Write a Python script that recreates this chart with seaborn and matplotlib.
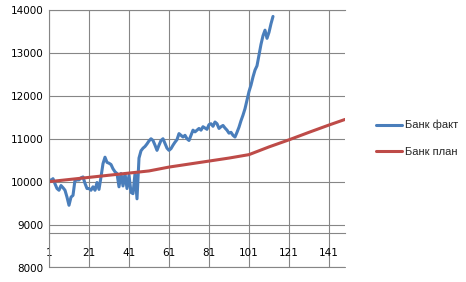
import matplotlib
matplotlib.use("Agg")
import matplotlib.pyplot as plt
import seaborn as sns
import pandas as pd

# ---- data ----
series_names = ["Банк факт", "Банк план"]

fact_values = [
    10050, 10030, 10070, 9950, 9840, 9800, 9910, 9860, 9800, 9640,
    9450, 9640, 9680, 10040, 10040, 10040, 10090, 10110, 9960, 9840,
    9840, 9800, 9880, 9800, 9980, 9820, 10110, 10420, 10570, 10450,
    10430, 10400, 10300, 10230, 10190, 9880, 10190, 9900, 10190, 9840,
    10150, 9750, 9720, 10190, 9600, 10550, 10720, 10780, 10820, 10880,
    10950, 11000, 10960, 10850, 10730, 10850, 10960, 11000, 10890, 10780,
    10730, 10770, 10850, 10920, 10980, 11120, 11080, 11040, 11080, 11000,
    10960, 11080, 11200, 11160, 11200, 11240, 11200, 11280, 11250, 11220,
    11330, 11350, 11290, 11390, 11350, 11240, 11280, 11310, 11250, 11200,
    11130, 11150, 11080, 11040, 11150, 11270, 11420, 11550, 11700, 11900,
    12100, 12250, 12440, 12600, 12700, 12950, 13200, 13400, 13530, 13340,
    13480, 13680, 13850,
]
fact_periods = list(range(1, len(fact_values) + 1))

plan_periods = [1, 11, 21, 31, 41, 51, 61, 71, 81, 91, 101, 106, 111, 121, 131, 141, 149]
plan_values = [10000, 10050, 10100, 10150, 10200, 10250, 10340, 10410, 10480,
               10550, 10630, 10720, 10810, 10975, 11150, 11320, 11450]

x_tick_labels = [1, 21, 41, 61, 81, 101, 121, 141]
x_minor_ticks = list(range(1, 142, 10))
y_ticks = [8000, 9000, 10000, 11000, 12000, 13000, 14000]

colors = ["#4A7EBB", "#BE4B48"]
grid_color = "#868686"

df = pd.concat([
    pd.DataFrame({"period": fact_periods, "value": fact_values, "series": series_names[0]}),
    pd.DataFrame({"period": plan_periods, "value": plan_values, "series": series_names[1]}),
], ignore_index=True)

# ---- style ----
sns.set_style("white")
plt.rcParams["font.family"] = ["DejaVu Sans"]

fig = plt.figure(figsize=(4.66, 2.82), dpi=100)
ax = fig.add_axes([49 / 466, 1 - 267.5 / 282, 296 / 466, 257.5 / 282])

sns.lineplot(data=df, x="period", y="value", hue="series", palette=colors,
             hue_order=series_names, estimator=None, linewidth=2.2,
             solid_joinstyle="round", solid_capstyle="round", ax=ax)

ax.set_xlim(1, 149)
ax.set_ylim(8000, 14000)
ax.set_yticks(y_ticks)
ax.set_yticklabels([str(v) for v in y_ticks])
ax.set_xticks(x_tick_labels)
ax.set_xticklabels([str(v) for v in x_tick_labels])
ax.set_xticks(x_minor_ticks, minor=True)
ax.set_xlabel("")
ax.set_ylabel("")

ax.grid(True, which="major", color=grid_color, linewidth=0.8)
ax.set_axisbelow(True)

ax.spines["right"].set_visible(False)
for side in ["left", "top", "bottom"]:
    ax.spines[side].set_color(grid_color)
    ax.spines[side].set_linewidth(0.8)
ax.spines["bottom"].set_position(("data", 8800))
ax.axhline(8000, color=grid_color, linewidth=0.8, clip_on=False, zorder=0)

ax.tick_params(axis="y", which="major", length=0, pad=4, labelsize=7.5, colors="black")
ax.tick_params(axis="x", which="major", length=0, pad=11, labelsize=7.5, colors="black")
ax.tick_params(axis="x", which="minor", length=3.5, width=0.8, color=grid_color, direction="out")

handles, labels = ax.get_legend_handles_labels()
ax.get_legend().remove()
fig.legend(handles, labels, loc="center left", bbox_to_anchor=(376 / 466, 1 - 138.3 / 282),
           frameon=False, prop={"family": "Liberation Sans", "size": 8},
           handlelength=2.35, handletextpad=0.3,
           labelspacing=1.45, borderpad=0, borderaxespad=0)

fig.savefig("out.png", dpi=100)
